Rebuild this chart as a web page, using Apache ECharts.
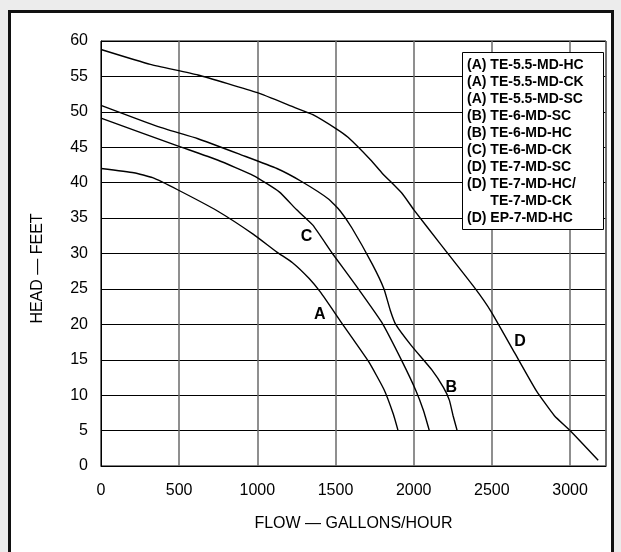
<!DOCTYPE html>
<html>
<head>
<meta charset="utf-8">
<script src="https://cdn.jsdelivr.net/npm/echarts@6/dist/echarts.min.js"></script>
<style>
  html, body {
    margin: 0;
    padding: 0;
    width: 621px;
    height: 552px;
    overflow: hidden;
    background: #ececec;
  }
  #frame {
    position: absolute;
    left: 8px;
    top: 10px;
    width: 600px;
    height: 580px;
    border: 3px solid #111;
    background: #fff;
  }
  #chart {
    position: absolute;
    left: 0;
    top: 0;
    width: 621px;
    height: 552px;
  }
</style>
</head>
<body>
<div id="frame"></div>
<div id="chart"></div>
<script>
// pump curves: [flow (gal/hr), head (ft)]
const curveA = [
  [0, 42.0], [210, 41.4], [330, 40.7], [490, 39.0], [745, 36.0], [975, 32.7],
  [1125, 30.2], [1225, 28.7], [1330, 26.5], [1405, 24.5], [1530, 20.5],
  [1710, 14.8], [1810, 10.8], [1870, 7.3], [1900, 5.0]
]
const curveB = [
  [0, 50.9], [365, 47.9], [620, 46.2], [900, 43.9], [1125, 42.0], [1280, 40.2],
  [1455, 37.7], [1530, 36.0], [1605, 33.6], [1735, 28.5], [1810, 25.0],
  [1850, 22.0], [1885, 20.0], [1985, 17.0], [2115, 13.6], [2190, 11.1],
  [2228, 9.3], [2252, 7.1], [2278, 5.0]
]
const curveC = [
  [0, 49.1], [490, 45.2], [745, 43.2], [975, 41.0], [1140, 38.7], [1250, 36.2],
  [1355, 34.0], [1480, 30.0], [1630, 25.5], [1795, 20.3], [1925, 14.8],
  [2015, 10.6], [2063, 7.8], [2100, 5.0]
]
const curveD = [
  [0, 58.8], [315, 56.7], [620, 55.2], [1000, 52.7], [1240, 50.6], [1355, 49.6],
  [1505, 47.6], [1580, 46.4], [1725, 43.2], [1800, 41.3], [1925, 38.5],
  [2000, 36.2], [2165, 31.5], [2395, 25.0], [2495, 21.8], [2645, 16.0],
  [2785, 10.6], [2900, 7.1], [3000, 5.0], [3180, 0.8]
]
// curve letters placed next to the lines
const curveLabels = [
  [1315, 32.4, 'C'], [1400, 21.4, 'A'], [2240, 11.1, 'B'], [2680, 17.5, 'D']
]
const legendLines = [
  '(A) TE-5.5-MD-HC', '(A) TE-5.5-MD-CK', '(A) TE-5.5-MD-SC',
  '(B) TE-6-MD-SC', '(B) TE-6-MD-HC', '(C) TE-6-MD-CK',
  '(D) TE-7-MD-SC', '(D) TE-7-MD-HC/', '      TE-7-MD-CK',
  '(D) EP-7-MD-HC'
]
const xMax = 3230
const yMax = 60

const font = 'Liberation Sans, Arial, Helvetica, sans-serif'

function curve(data) {
  return {
    type: 'line',
    data: data,
    smooth: 0.15,
    symbol: 'none',
    lineStyle: { color: '#000', width: 1.4 },
    animation: false
  }
}

const myChart = echarts.init(document.getElementById('chart'))
myChart.setOption({
  backgroundColor: 'transparent',
  textStyle: { fontFamily: font },
  title: {
    text: legendLines.join('\n'),
    left: 462,
    top: 52,
    padding: [5, 20, 3, 5],
    backgroundColor: '#fff',
    borderColor: '#000',
    borderWidth: 1,
    textStyle: {
      fontFamily: font,
      fontSize: 14,
      fontWeight: 'bold',
      color: '#000',
      lineHeight: 17
    },
    z: 10
  },
  grid: {
    left: 101,
    right: 15,
    top: 41,
    bottom: 86,
    show: true,
    borderColor: '#000',
    borderWidth: 1
  },
  xAxis: {
    type: 'value',
    min: 0,
    max: xMax,
    interval: 500,
    name: 'FLOW — GALLONS/HOUR',
    nameLocation: 'middle',
    nameGap: 50,
    nameTextStyle: { fontFamily: font, fontSize: 16, color: '#000' },
    axisLine: { lineStyle: { color: '#000', width: 1 } },
    axisTick: { show: false },
    axisLabel: {
      showMaxLabel: false,
      margin: 17,
      formatter: v => String(v),
      fontFamily: font,
      fontSize: 16,
      color: '#000'
    },
    splitLine: { show: true, lineStyle: { color: '#6a6a6a', width: 1.5 } }
  },
  yAxis: {
    type: 'value',
    min: 0,
    max: yMax,
    interval: 5,
    name: 'HEAD — FEET',
    nameLocation: 'middle',
    nameGap: 55,
    nameTextStyle: {
      fontFamily: font,
      fontSize: 16,
      color: '#000',
      padding: [0, 30, 0, 0]
    },
    axisLine: { lineStyle: { color: '#000', width: 1 } },
    axisTick: { show: false },
    axisLabel: { margin: 13, fontFamily: font, fontSize: 16, color: '#000' },
    splitLine: { show: true, lineStyle: { color: '#000', width: 1 } }
  },
  series: [
    curve(curveA),
    curve(curveB),
    curve(curveC),
    curve(curveD),
    {
      type: 'scatter',
      data: curveLabels,
      symbolSize: 0,
      animation: false,
      itemStyle: { opacity: 1 },
      label: {
        show: true,
        position: 'inside',
        formatter: p => p.data[2],
        fontFamily: font,
        fontSize: 16,
        fontWeight: 'bold',
        color: '#000'
      }
    }
  ]
})
</script>
</body>
</html>
